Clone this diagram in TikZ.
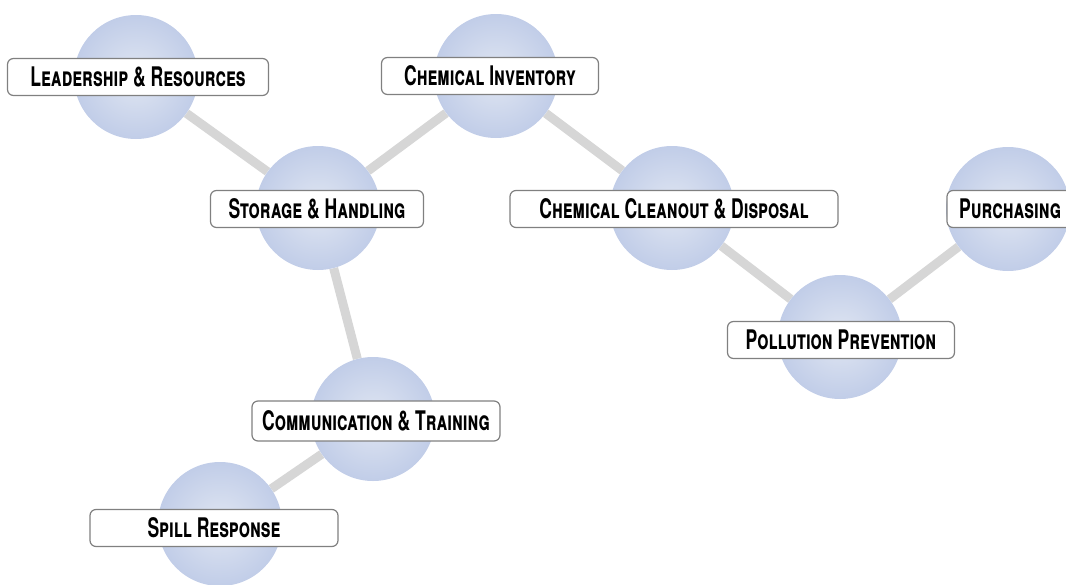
\documentclass[tikz,border=0pt]{standalone}
\usepackage{fontspec}
\usepackage{graphicx}
\newfontfamily\topicfont[Letters=SmallCaps]{TeX Gyre Heros}
\usetikzlibrary{backgrounds}

\definecolor{ballblue}{HTML}{C1CDE8}
\definecolor{balllight}{HTML}{E0E6F2}
\definecolor{linkgray}{HTML}{D6D6D6}
\definecolor{boxgray}{HTML}{808080}
\newcommand{\topic}[1]{\scalebox{0.65}[1]{\topicfont\bfseries #1}}

\begin{document}
\begin{tikzpicture}[x=1pt, y=-1pt]
      \tikzstyle{ball}=[circle, minimum size=124pt, inner sep=0pt,
        inner color=balllight, outer color=ballblue]
      \tikzstyle{tag}=[draw=boxgray, line width=1.2pt, rounded corners=6pt,
        fill=white, minimum height=37pt, inner sep=0pt,
        font=\fontsize{27}{27}\selectfont]
      \tikzstyle{link}=[line width=9pt, draw=linkgray]

      \useasboundingbox (0,0) rectangle (1066,584);

      % Spheres of the topics, positions as in the map.
      \node[ball] (lead)  at (136,77)  {};
      \node[ball] (stor)  at (318,208) {};
      \node[ball] (inv)   at (496,76)  {};
      \node[ball] (clean) at (672,208) {};
      \node[ball] (poll)  at (840,337) {};
      \node[ball] (purch) at (1008,209) {};
      \node[ball] (comm)  at (373,419) {};
      \node[ball] (spill) at (220,524) {};

      % Links between the spheres, kept behind them.
      \begin{scope}[on background layer]
        \path[link]
          (lead) edge (stor)
          (stor)
            edge (inv)
            edge (comm)
          (inv) edge (clean)
          (clean) edge (poll)
          (poll) edge (purch)
          (comm) edge (spill);
      \end{scope}

      % Label boxes on top of the spheres.
      \node[tag, minimum width=261pt] (lead-t)  at (138,77)  {\topic{Leadership \& Resources}};
      \node[tag, minimum width=213pt] (stor-t)  at (317,209) {\topic{Storage \& Handling}};
      \node[tag, minimum width=217pt] (inv-t)   at (490,76)  {\topic{Chemical Inventory}};
      \node[tag, minimum width=328pt] (clean-t) at (674,209) {\topic{Chemical Cleanout \& Disposal}};
      \node[tag, minimum width=227pt] (poll-t)  at (841,340) {\topic{Pollution Prevention}};
      \node[tag, minimum width=126pt] (purch-t) at (1010,209) {\topic{Purchasing}};
      \node[tag, minimum width=248pt, minimum height=40pt] (comm-t) at (376,421) {\topic{Communication \& Training}};
      \node[tag, minimum width=248pt] (spill-t) at (214,528) {\topic{Spill Response}};
    \end{tikzpicture}
\end{document}
